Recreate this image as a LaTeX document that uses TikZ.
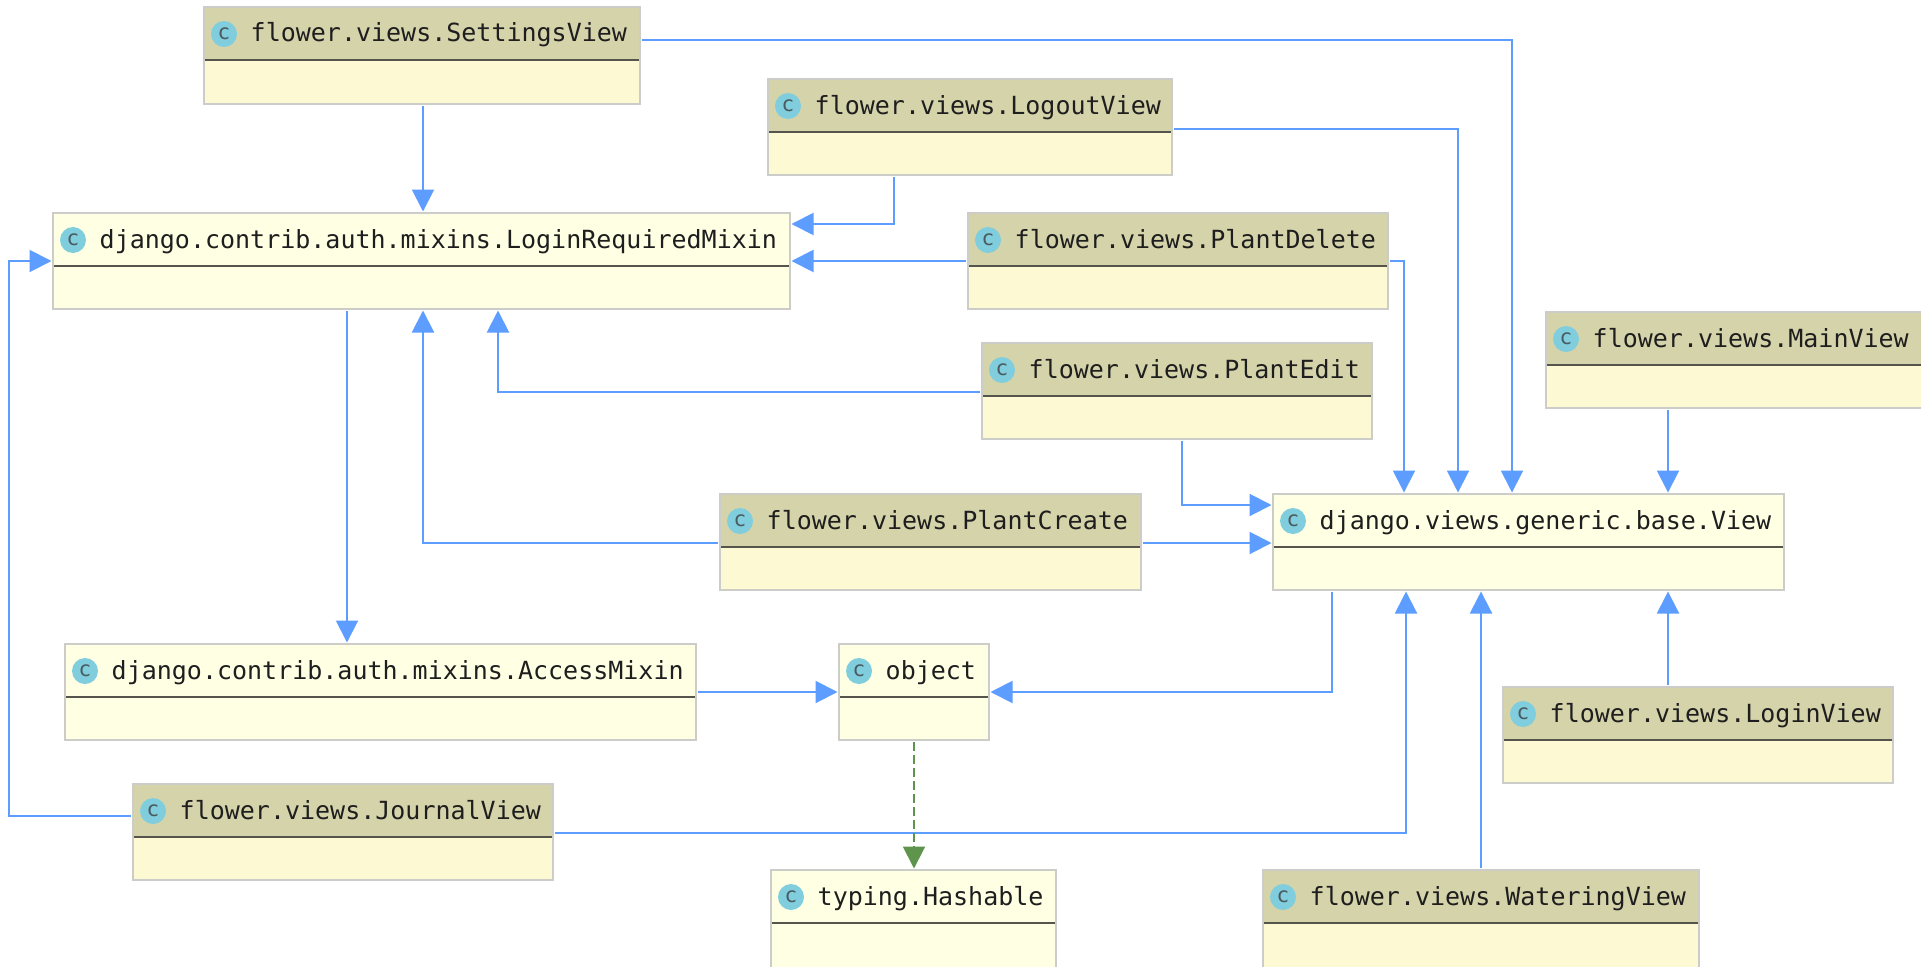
\documentclass[tikz,border=0pt]{standalone}
\usepackage{fontspec}
\setmonofont{DejaVu Sans Mono}
\usetikzlibrary{arrows.meta}
\definecolor{flowhead}{HTML}{D5D3AA}
\definecolor{flowbody}{HTML}{FCF9D3}
\definecolor{djbody}{HTML}{FFFFE4}
\definecolor{boxedge}{HTML}{CCCCC8}
\definecolor{divline}{HTML}{55554E}
\definecolor{badge}{HTML}{80CEDD}
\definecolor{badgec}{HTML}{4A5A60}
\definecolor{inherit}{HTML}{5C9DFF}
\definecolor{realize}{HTML}{5F944C}
\definecolor{labelc}{HTML}{1E1E1E}
\tikzset{
  x=1pt,y=-1pt,
  classbox/.style={draw=boxedge,line width=2pt,inner sep=0pt,outer sep=0pt,rectangle},
  classlabel/.style={anchor=base west,inner sep=0pt,font=\fontsize{25}{26}\ttfamily,text=labelc},
  badgedisc/.style={circle,fill=badge,minimum size=26pt,inner sep=0pt},
  badgeletter/.style={font=\fontsize{21}{22}\ttfamily,text=badgec,inner sep=0pt},
  dep/.style={draw=inherit,line width=2pt,shorten >=1.5pt,shorten <=2pt,-{Triangle[width=22pt,length=22pt]}},
  real/.style={draw=realize,line width=2pt,shorten >=1.5pt,shorten <=2pt,dash pattern=on 9pt off 4pt,-{Triangle[width=22pt,length=22pt]}}
}
% name, x1, y1, x2, y2, header colour, body colour, text
\newcommand{\classnode}[8]{%
  \pgfmathsetmacro{\cnmx}{(#2+#4)/2}%
  \pgfmathsetmacro{\cnmy}{(#3+#5)/2}%
  \pgfmathsetmacro{\cnwd}{#4-#2}%
  \pgfmathsetmacro{\cnht}{#5-#3}%
  \pgfmathsetmacro{\cndv}{#3+53}%
  \pgfmathsetmacro{\cnby}{#3+35}%
  \pgfmathsetmacro{\cncy}{#3+27}%
  \pgfmathsetmacro{\cnbx}{#2+20}%
  \pgfmathsetmacro{\cntx}{#2+46.5}%
  \node[classbox,fill=#7,minimum width=\cnwd pt,minimum height=\cnht pt] (#1) at (\cnmx,\cnmy) {};
  \fill[#6] (#2+1,#3+1) rectangle (#4-1,\cndv);
  \draw[divline,line width=2pt] (#2+1,\cndv) -- (#4-1,\cndv);
  \node[badgedisc] (#1-badge) at (\cnbx,\cncy) {};
  \node[badgeletter] (#1-c) at (\cnbx,\cncy) {c};
  \node[classlabel] (#1-name) at (\cntx,\cnby) {#8};
}
\begin{document}
\begin{tikzpicture}
\useasboundingbox (0,0) rectangle (1921,966);
\clip (0,0) rectangle (1921,966);
\fill[white] (0,0) rectangle (1921,966);
\classnode{settings}{204}{7}{640}{104}{flowhead}{flowbody}{flower.views.SettingsView}
\classnode{login}{53}{213}{790}{309}{djbody}{djbody}{django.contrib.auth.mixins.LoginRequiredMixin}
\classnode{logout}{768}{79}{1172}{175}{flowhead}{flowbody}{flower.views.LogoutView}
\classnode{delete}{968}{213}{1388}{309}{flowhead}{flowbody}{flower.views.PlantDelete}
\classnode{edit}{982}{343}{1372}{439}{flowhead}{flowbody}{flower.views.PlantEdit}
\classnode{main}{1546}{312}{1925}{408}{flowhead}{flowbody}{flower.views.MainView}
\classnode{view}{1273}{494}{1784}{590}{djbody}{djbody}{django.views.generic.base.View}
\classnode{create}{720}{494}{1141}{590}{flowhead}{flowbody}{flower.views.PlantCreate}
\classnode{access}{65}{644}{696}{740}{djbody}{djbody}{django.contrib.auth.mixins.AccessMixin}
\classnode{object}{839}{644}{989}{740}{djbody}{djbody}{object}
\classnode{loginview}{1503}{687}{1893}{783}{flowhead}{flowbody}{flower.views.LoginView}
\classnode{journal}{133}{784}{553}{880}{flowhead}{flowbody}{flower.views.JournalView}
\classnode{hash}{771}{870}{1056}{970}{djbody}{djbody}{typing.Hashable}
\classnode{water}{1263}{870}{1699}{970}{flowhead}{flowbody}{flower.views.WateringView}

\draw[dep] (settings.south -| 423,0) -- (login.north -| 423,0);
\draw[dep] (settings.east |- 0,40) -| (view.north -| 1512,0);
\draw[dep] (logout.east |- 0,129) -| (view.north -| 1458,0);
\draw[dep] (logout.south -| 894,0) |- (login.east |- 0,224);
\draw[dep] (delete.west |- 0,261) -- (login.east |- 0,261);
\draw[dep] (delete.east |- 0,261) -| (view.north -| 1404,0);
\draw[dep] (edit.west |- 0,392) -| (login.south -| 498,0);
\draw[dep] (edit.south -| 1182,0) |- (view.west |- 0,505);
\draw[dep] (create.west |- 0,543) -| (login.south -| 423,0);
\draw[dep] (create.east |- 0,543) -- (view.west |- 0,543);
\draw[dep] (main.south -| 1668,0) -- (view.north -| 1668,0);
\draw[dep] (loginview.north -| 1668,0) -- (view.south -| 1668,0);
\draw[dep] (water.north -| 1481,0) -- (view.south -| 1481,0);
\draw[dep] (journal.east |- 0,833) -| (view.south -| 1406,0);
\draw[dep] (journal.west |- 0,816) -| (9,261) -- (login.west |- 0,261);
\draw[dep] (login.south -| 347,0) -- (access.north -| 347,0);
\draw[dep] (access.east |- 0,692) -- (object.west |- 0,692);
\draw[dep] (view.south -| 1332,0) |- (object.east |- 0,692);
\draw[real] (object.south -| 914,0) -- (hash.north -| 914,0);
\end{tikzpicture}
\end{document}
